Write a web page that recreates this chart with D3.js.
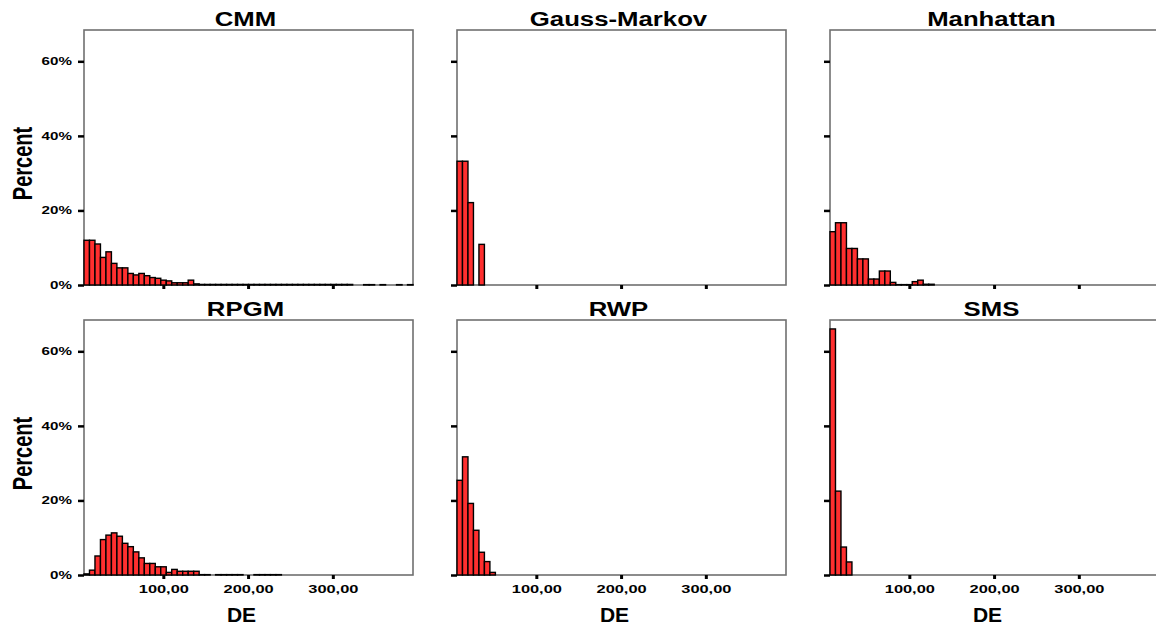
<!DOCTYPE html>
<html>
<head>
<meta charset="utf-8">
<script src="https://cdn.jsdelivr.net/npm/d3@7"></script>
<style>
  body { margin: 0; background: #fff; }
  svg { display: block; overflow: hidden; }
</style>
</head>
<body>
<div id="chart"></div>
<script>
// panel titles, in reading order (3 columns x 2 rows)
const panels = ["CMM", "Gauss-Markov", "Manhattan", "RPGM", "RWP", "SMS"];

// histogram bins (percent of cases)
const binStart = 6.4;     // DE value at the left edge of the axis
const binWidth = 6.47;    // DE units per bin
const binCount = 60;

const cmm = [12, 12, 11, 7.4, 8.9, 5.8, 4.6, 4.6, 3.1, 2.7, 3.1, 2.5, 2.0, 1.8, 1.3, 1.1, 0.6, 0.6, 0.6, 1.3,
  0.3, 0.15, 0.15, 0.15, 0.15, 0.15, 0.15, 0.15, 0.15, 0.15, 0.15, 0.15, 0.15, 0.15, 0.15, 0.15, 0.15, 0.15, 0.15, 0.15,
  0.15, 0.15, 0.15, 0.15, 0.15, 0.15, 0.15, 0.15, 0.15, 0, 0, 0.1, 0.1, 0, 0.1, 0, 0, 0.1, 0, 0.1];
const gaussMarkov = [33.2, 33.2, 22.1, 0, 10.9];
const manhattan = [14.3, 16.7, 16.7, 9.8, 9.8, 7.0, 7.0, 1.6, 1.6, 3.75, 3.75, 0.7, 0.1, 0.1, 0.1, 0.9, 1.3, 0.2, 0.2];
const rpgm = [0.3, 1.3, 5.1, 9.5, 10.7, 11.3, 10.4, 8.5, 7.6, 6.2, 4.6, 3.1, 3.1, 2.2, 2.2, 0.7, 1.5, 1.0, 1.0, 1.0,
  1.0, 0.1, 0.1, 0, 0.1, 0.1, 0.1, 0.1, 0.1, 0, 0, 0.1, 0.1, 0.1, 0.1, 0.1];
const rwp = [25.4, 31.7, 19.2, 12, 6.1, 3.6, 0.7];
const sms = [66, 22.5, 7.5, 3.5];

const series = [cmm, gaussMarkov, manhattan, rpgm, rwp, sms];

const xTicks = [100, 200, 300];
const yTicks = [0, 20, 40, 60];
const xTickLabel = d => d3.format(".2f")(d).replace(".", ",");
const yTickLabel = d => d + "%";

const xLabel = "DE";
const yLabel = "Percent";

// layout
const W = 1156, H = 628;
const colLeft = [84, 457, 830];
const rowTop = [30, 320];
const pw = 329, ph = 255;

const svg = d3.select("#chart").append("svg")
  .attr("width", W)
  .attr("height", H);

const x = d3.scaleLinear()
  .domain([binStart, binStart + binCount * binWidth])
  .range([0, pw]);

const y = d3.scaleLinear()
  .domain([0, 68.4])
  .range([ph, 0]);

// widen text horizontally like the original raster
function stretch(sel, k) {
  sel.each(function() {
    const len = this.getComputedTextLength();
    d3.select(this).attr("textLength", len * k).attr("lengthAdjust", "spacingAndGlyphs");
  });
}

panels.forEach((name, i) => {
  const col = i % 3, row = Math.floor(i / 3);
  const g = svg.append("g")
    .attr("transform", `translate(${colLeft[col]}, ${rowTop[row]})`);

  // frame
  g.append("rect")
    .attr("width", pw)
    .attr("height", ph)
    .attr("fill", "none")
    .attr("stroke", "#707070")
    .attr("stroke-width", 1.6);

  // bars
  const bins = series[i].map((v, j) => ({v: v, x0: binStart + j * binWidth, x1: binStart + (j + 1) * binWidth}));
  g.selectAll("rect.bar")
    .data(bins.filter(d => d.v > 0))
    .join("rect")
      .attr("class", "bar")
      .attr("x", d => x(d.x0))
      .attr("y", d => y(d.v))
      .attr("width", d => x(d.x1) - x(d.x0))
      .attr("height", d => y(0) - y(d.v))
      .attr("fill", "#ff2f2f")
      .attr("stroke", "#000")
      .attr("stroke-width", 1.4);

  // y axis
  const ya = g.append("g")
    .call(d3.axisLeft(y).tickValues(yTicks).tickSize(6).tickPadding(6)
      .tickFormat(col === 0 ? yTickLabel : ""));
  ya.select(".domain").remove();
  ya.selectAll(".tick line").attr("stroke", "#000").attr("stroke-width", 2.5);
  ya.selectAll(".tick text")
    .attr("fill", "#000")
    .attr("x", 0)
    .attr("text-anchor", "end")
    .attr("transform", "translate(-12, 0) scale(1.38, 1)")
    .style("font", "bold 11px 'Liberation Sans', Arial, sans-serif");

  // x axis
  const xa = g.append("g")
    .attr("transform", `translate(0, ${ph})`)
    .call(d3.axisBottom(x).tickValues(xTicks).tickSize(4).tickPadding(6)
      .tickFormat(row === 1 ? xTickLabel : ""));
  xa.select(".domain").remove();
  xa.selectAll(".tick line").attr("stroke", "#000").attr("stroke-width", 3);
  xa.selectAll(".tick text")
    .attr("fill", "#000")
    .style("font", "bold 11px 'Liberation Sans', Arial, sans-serif")
    .call(stretch, 1.49);

  // panel title
  g.append("text")
    .attr("x", pw / 2 - 3)
    .attr("y", -4.5)
    .attr("text-anchor", "middle")
    .style("font", "bold 19.5px 'Liberation Sans', Arial, sans-serif")
    .text(name)
    .call(stretch, 1.32);

  if (row === 1) {
    g.append("text")
      .attr("x", pw / 2 - 7)
      .attr("y", ph + 47)
      .attr("text-anchor", "middle")
      .style("font", "bold 21px 'Liberation Sans', Arial, sans-serif")
      .text(xLabel);
  }

  if (col === 0) {
    g.append("text")
      .attr("transform", `translate(-52, ${ph / 2 + 6}) scale(1.35, 1) rotate(-90)`)
      .attr("text-anchor", "middle")
      .style("font", "bold 20px 'Liberation Sans', Arial, sans-serif")
      .text(yLabel);
  }
});
</script>
</body>
</html>
